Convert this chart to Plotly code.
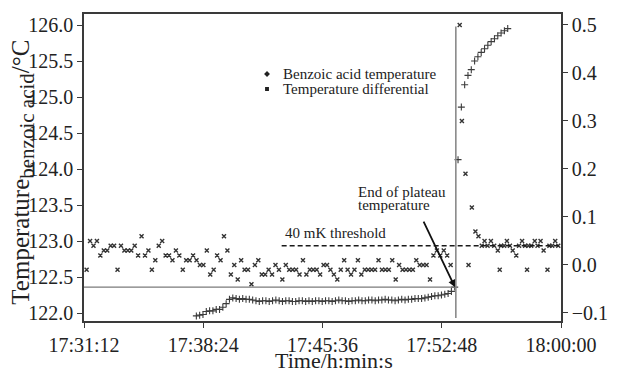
import pandas as pd
import plotly.graph_objects as go

DAY = "2000-01-01 "

# ---------------- data ----------------
x_tick_labels = ["17:31:12", "17:38:24", "17:45:36", "17:52:48", "18:00:00"]
left_ticks = [122.0, 122.5, 123.0, 123.5, 124.0, 124.5, 125.0, 125.5, 126.0]
right_ticks = [-0.1, 0.0, 0.1, 0.2, 0.3, 0.4, 0.5]

# Benzoic acid temperature (deg C), sampled every 12 s from 17:37:59
temp_start = "17:37:59"
temp_step_s = 12.0
temp_values = [
    121.96, 121.97, 121.98, 122.02, 122.03, 122.03, 122.05, 122.05, 122.08, 122.13, 122.19, 122.21,
    122.20, 122.19, 122.20, 122.19, 122.19, 122.18,
    122.17, 122.16, 122.17, 122.17, 122.16, 122.17, 122.18, 122.17, 122.16, 122.17,
    122.17, 122.16, 122.16, 122.17, 122.17, 122.16, 122.17, 122.16, 122.17, 122.17,
    122.16, 122.17, 122.17, 122.16, 122.17, 122.18, 122.17, 122.17, 122.16, 122.17,
    122.17, 122.18, 122.17, 122.17, 122.18,
    122.18, 122.17, 122.18, 122.18, 122.19, 122.18, 122.18, 122.17, 122.18, 122.19,
    122.18, 122.19, 122.19, 122.20,
    122.20, 122.20, 122.21, 122.22, 122.23, 122.24, 122.24, 122.25, 122.26, 122.27,
    122.30, 122.36,
    124.13, 124.86, 125.17, 125.30, 125.38, 125.50, 125.56, 125.62, 125.67, 125.72,
    125.77, 125.81, 125.85, 125.89, 125.92, 125.95,
]

# Temperature differential (deg C), before the jump: every 12.44 s from 17:31:21.5
diff_start = "17:31:21.5"
diff_step_s = 12.44
diff_values_pre = [
    -0.01, 0.05, 0.04, 0.05, 0.02, 0.03, 0.03, 0.04, 0.04, -0.01,
    0.04, 0.03, 0.03, 0.03, 0.04, 0.02, 0.06, 0.02, 0.03, -0.01,
    0.01, 0.04, 0.05, 0.02, 0.02, 0.01, 0.03, 0.02, -0.01, 0.01,
    0.01, 0.02, 0.01, 0.00, 0.00, 0.03, -0.02, -0.01, 0.02, 0.01,
    0.06, 0.03, -0.02, 0.00, -0.03, 0.01, -0.01, -0.01, -0.04, 0.00,
    0.01, -0.02, -0.02, -0.01, -0.02, 0.00, -0.01, -0.03, 0.00, -0.01,
    -0.01, -0.01, -0.02, 0.01,
    -0.02, -0.01, -0.01, -0.01, -0.02, 0.00, 0.00, -0.01, -0.02, -0.03,
    -0.01, 0.01, -0.01, -0.02, -0.01, 0.01, -0.02, -0.01, -0.01, -0.01,
    -0.01, 0.01, -0.01, -0.01, -0.01, 0.01, -0.03, 0.00, -0.01, -0.01,
    -0.01, -0.01, 0.01, 0.00, 0.00, 0.00, -0.03, 0.02, 0.03, 0.02,
    0.03, 0.02, 0.00,
]
# after the jump
diff_times_post = [
    "17:53:53", "17:54:01", "17:54:14", "17:54:25", "17:54:37", "17:54:50", "17:55:01",
    "17:55:13", "17:55:23", "17:55:34", "17:55:46", "17:55:58", "17:56:11", "17:56:18",
    "17:56:23", "17:56:34", "17:56:44", "17:56:55", "17:57:05", "17:57:18", "17:57:28",
    "17:57:39", "17:57:50", "17:57:57", "17:58:02", "17:58:12", "17:58:25", "17:58:35",
    "17:58:46", "17:58:57", "17:59:11", "17:59:18", "17:59:28", "17:59:39", "17:59:50",
]
diff_values_post = [
    0.50, 0.30, 0.19, 0.00, 0.12, 0.07, 0.06,
    0.04, 0.05, 0.04, 0.05, 0.04, 0.03, -0.01,
    0.04, 0.04, 0.05, 0.04, 0.03, 0.02, 0.04,
    0.05, 0.04, -0.01, 0.04, 0.04, 0.05, 0.04,
    0.05, 0.03, -0.01, 0.04, 0.04, 0.05, 0.04,
]

plateau_end_time = "17:53:35.6"
plateau_end_temp = 122.36
jump_time = "17:53:39"
threshold = 0.04
threshold_start = "17:43:08"

# ---------------- build ----------------
def ts(s):
    return pd.Timestamp(DAY + s)

temp_t = [ts(temp_start) + pd.Timedelta(seconds=temp_step_s * i) for i in range(len(temp_values))]
diff_t = [ts(diff_start) + pd.Timedelta(seconds=diff_step_s * i) for i in range(len(diff_values_pre))]
diff_t += [ts(s) for s in diff_times_post]
diff_v = diff_values_pre + diff_values_post

FONT = "Liberation Serif"
INK = "#222222"
AX = "#3a3a3a"

fig = go.Figure()
fig.add_trace(go.Scatter(
    x=temp_t, y=temp_values, mode="markers", name="Benzoic acid temperature",
    marker=dict(symbol="cross-thin-open", size=5, line=dict(width=1.1, color="#3c3c3c"), color="#3c3c3c"),
    showlegend=False, yaxis="y"))
fig.add_trace(go.Scatter(
    x=diff_t, y=diff_v, mode="markers", name="Temperature differential",
    marker=dict(symbol="x-thin-open", size=4, line=dict(width=1.4, color="#333333"), color="#333333"),
    showlegend=False, yaxis="y2"))

x_range = [ts(x_tick_labels[0]), ts(x_tick_labels[-1])]
L, R, T, B = 84, 46, 14, 51
W, H = 620, 372
pw, ph = W - L - R, H - T - B

def px(xp):
    return (xp - L) / pw

def py(yp):
    return (H - B - yp) / ph

fig.update_layout(
    width=W, height=H, margin=dict(l=L, r=R, t=T, b=B),
    paper_bgcolor="white", plot_bgcolor="white",
    font=dict(family=FONT, color=INK, size=20),
    xaxis=dict(type="date", range=x_range, tickvals=[ts(s) for s in x_tick_labels],
               ticktext=x_tick_labels, ticks="outside", ticklen=5, tickwidth=1.3, tickcolor=AX,
               showline=True, linecolor=AX, linewidth=1.6, mirror=True, showgrid=False,
               zeroline=False, tickfont=dict(size=20, family=FONT, color=INK)),
    yaxis=dict(range=[121.889, 126.153], tickvals=left_ticks, tickformat=".1f",
               ticks="outside", ticklen=5, tickwidth=1.3, tickcolor=AX,
               showline=True, linecolor=AX, linewidth=1.6, showgrid=False, zeroline=False,
               tickfont=dict(size=20, family=FONT, color=INK)),
    yaxis2=dict(range=[-0.1167, 0.5229], tickvals=right_ticks, tickformat=".1f",
                overlaying="y", side="right", ticks="outside", ticklen=5, tickwidth=1.3,
                tickcolor=AX, showline=True, linecolor=AX, linewidth=1.6, showgrid=False,
                zeroline=False, tickfont=dict(size=20, family=FONT, color=INK)),
    showlegend=False,
)

# reference lines
fig.add_shape(type="line", xref="x", yref="y", x0=ts(jump_time), x1=ts(jump_time),
              y0=121.93, y1=125.98, line=dict(color="#8a8a8a", width=1.6))
fig.add_shape(type="line", xref="x", yref="y", x0=x_range[0], x1=ts(jump_time),
              y0=plateau_end_temp, y1=plateau_end_temp, line=dict(color="#7a7a7a", width=1.4))
fig.add_shape(type="line", xref="x", yref="y2", x0=ts(threshold_start), x1=x_range[1],
              y0=threshold, y1=threshold, line=dict(color="#1a1a1a", width=1.6, dash="5px,3px"))

# arrow
fig.add_annotation(x=ts(plateau_end_time), y=plateau_end_temp, xref="x", yref="y",
                   text="", showarrow=True, ax=-32, ay=-67, arrowhead=2, arrowsize=0.8,
                   arrowwidth=1.8, arrowcolor="#111111")

ann_font = dict(family=FONT, size=15, color=INK)
fig.add_annotation(x=px(363), y=py(192), xref="paper", yref="paper", text="End of plateau",
                   showarrow=False, xanchor="left", yanchor="middle", font=ann_font)
fig.add_annotation(x=px(363), y=py(205), xref="paper", yref="paper", text="temperature",
                   showarrow=False, xanchor="left", yanchor="middle", font=ann_font)
fig.add_annotation(x=px(288), y=py(233), xref="paper", yref="paper", text="40 mK threshold",
                   showarrow=False, xanchor="left", yanchor="middle", font=ann_font)

# legend (text + symbols)
fig.add_annotation(x=px(286), y=py(74), xref="paper", yref="paper", text="Benzoic acid temperature",
                   showarrow=False, xanchor="left", yanchor="middle", font=ann_font)
fig.add_annotation(x=px(286), y=py(89), xref="paper", yref="paper", text="Temperature differential",
                   showarrow=False, xanchor="left", yanchor="middle", font=ann_font)
cx, cy, r = 272, 74, 3
fig.add_shape(type="path", xref="paper", yref="paper",
              path=f"M {px(cx)},{py(cy - r)} L {px(cx + r)},{py(cy)} L {px(cx)},{py(cy + r)} L {px(cx - r)},{py(cy)} Z",
              fillcolor="#222222", line=dict(width=0))
fig.add_shape(type="rect", xref="paper", yref="paper",
              x0=px(270), x1=px(274), y0=py(91), y1=py(87), fillcolor="#222222", line=dict(width=0))

# axis titles
fig.add_annotation(x=px(341), y=py(360), xref="paper", yref="paper", text="Time/h:min:s",
                   showarrow=False, xanchor="center", yanchor="middle",
                   font=dict(family=FONT, size=22, color=INK))
fig.add_annotation(x=px(21), y=py(172), xref="paper", yref="paper",
                   text="Temperature<sub><span style='font-size:21px'>benzoic acid</span></sub>/°C",
                   textangle=-90, showarrow=False, xanchor="center", yanchor="middle",
                   font=dict(family=FONT, size=25, color=INK))

fig.write_html("out.html")
